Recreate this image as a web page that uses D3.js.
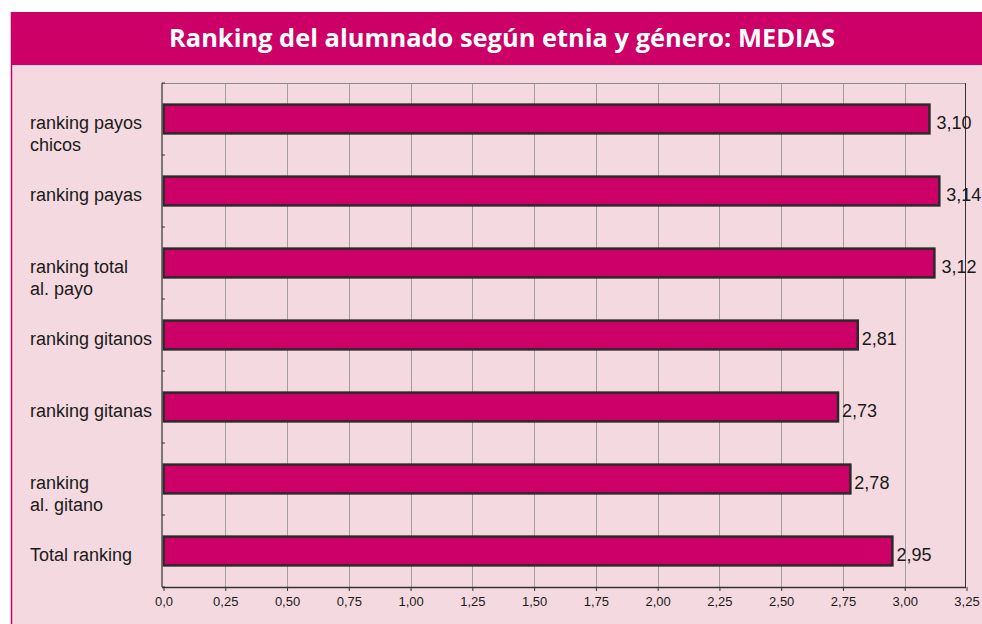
<!DOCTYPE html>
<html>
<head>
<meta charset="utf-8">
<script src="https://cdn.jsdelivr.net/npm/d3@7"></script>
<style>
  html, body { margin: 0; padding: 0; background: #fff; }
  svg { display: block; }
</style>
</head>
<body>
<svg id="chart" width="982" height="624"></svg>
<script>
// chart data
const title = 'Ranking del alumnado según etnia y género: MEDIAS';
const categories = [
    ['ranking payos', 'chicos'],
    ['ranking payas'],
    ['ranking total', 'al. payo'],
    ['ranking gitanos'],
    ['ranking gitanas'],
    ['ranking', 'al. gitano'],
    ['Total ranking']
];
const values = [3.10, 3.14, 3.12, 2.81, 2.73, 2.78, 2.95];
const tickValues = [0, 0.25, 0.5, 0.75, 1, 1.25, 1.5, 1.75, 2, 2.25, 2.5, 2.75, 3, 3.25];
const tickLabels = ['0,0', '0,25', '0,50', '0,75', '1,00', '1,25', '1,50', '1,75', '2,00', '2,25', '2,50', '2,75', '3,00', '3,25'];
const valueLabels = ['3,10', '3,14', '3,12', '2,81', '2,73', '2,78', '2,95'];

const pink = '#cc0066';
const plot = {left: 162, top: 83, right: 965, bottom: 587};

const svg = d3.select('#chart');

// panel + title bar
svg.append('rect')
    .attr('x', 11).attr('y', 12)
    .attr('width', 971).attr('height', 612)
    .attr('fill', '#f5d9e0');
svg.append('line')
    .attr('x1', 11.5).attr('x2', 11.5)
    .attr('y1', 12).attr('y2', 624)
    .attr('stroke', pink).attr('stroke-width', 1.5);
svg.append('rect')
    .attr('x', 11).attr('y', 12)
    .attr('width', 971).attr('height', 53)
    .attr('fill', pink);

let titleText = svg.append('text')
    .attr('x', 502).attr('y', 47)
    .attr('text-anchor', 'middle')
    .attr('fill', '#fff')
    .style('font-family', '"Open Sans", sans-serif')
    .style('font-weight', 700)
    .style('font-size', '24px')
    .text(title);
// fit to the width of the original title
let tw = titleText.node().getComputedTextLength();
titleText.style('font-size', (24 * 666 / tw).toFixed(2) + 'px');

let xScale = d3.scaleLinear()
    .domain([0, 3.25])
    .range([plot.left + 1.5, plot.right + 1.5]);

let yScale = d3.scaleBand()
    .domain(d3.range(categories.length))
    .range([plot.top, plot.bottom])
    .paddingInner(0.6)
    .paddingOuter(0.3);

let g = svg.append('g');

// vertical gridlines
g.selectAll('.grid')
    .data(tickValues.slice(1, -1))
    .enter()
    .append('line')
    .classed('grid', true)
    .attr('x1', (d) => Math.round(xScale(d)) + 0.5)
    .attr('x2', (d) => Math.round(xScale(d)) + 0.5)
    .attr('y1', plot.top)
    .attr('y2', plot.bottom)
    .attr('stroke', '#a0a0a0')
    .attr('stroke-width', 1);

// top border (grey) and right border (dark)
g.append('line')
    .attr('x1', plot.left).attr('x2', plot.right)
    .attr('y1', plot.top + 0.5).attr('y2', plot.top + 0.5)
    .attr('stroke', '#8a8a8a');
g.append('line')
    .attr('x1', plot.right + 0.5).attr('x2', plot.right + 0.5)
    .attr('y1', plot.top).attr('y2', plot.bottom)
    .attr('stroke', '#333');

// bars
g.selectAll('.bar')
    .data(values)
    .enter()
    .append('rect')
    .classed('bar', true)
    .attr('x', xScale(0))
    .attr('y', (d, i) => yScale(i))
    .attr('width', (d) => xScale(d) - xScale(0))
    .attr('height', yScale.bandwidth())
    .attr('fill', pink)
    .attr('stroke', '#2a2a2a')
    .attr('stroke-width', 2.5);

// value labels
g.selectAll('.value-label')
    .data(values)
    .enter()
    .append('text')
    .classed('value-label', true)
    .attr('x', (d, i) => xScale(d) + (i < 3 ? 7 : 4))
    .attr('y', (d, i) => yScale(i) + yScale.bandwidth() / 2 + 10)
    .style('font-family', '"Liberation Sans", Arial, sans-serif')
    .style('font-size', '18px')
    .attr('fill', '#1a1a1a')
    .text((d, i) => valueLabels[i]);

// bottom axis
let xAxis = d3.axisBottom(xScale)
    .tickValues(tickValues)
    .tickFormat((d, i) => tickLabels[i])
    .tickSize(4)
    .tickPadding(6);

let gx = svg.append('g')
    .attr('transform', `translate(0,${plot.bottom})`)
    .call(xAxis);
gx.select('.domain')
    .attr('d', `M${plot.left},0.5H${plot.right + 1}`)
    .attr('stroke', '#333')
    .attr('stroke-width', 1.5);
gx.selectAll('.tick line').attr('stroke', '#333');
gx.selectAll('.tick text')
    .attr('fill', '#1a1a1a')
    .style('font-family', '"Liberation Sans", Arial, sans-serif')
    .style('font-size', '13px');

// left axis: line with small inner ticks at the category boundaries
let boundaries = d3.range(categories.length + 1)
    .map((i) => plot.top + i * (plot.bottom - plot.top) / categories.length);
svg.append('line')
    .attr('x1', plot.left).attr('x2', plot.left)
    .attr('y1', plot.top).attr('y2', plot.bottom)
    .attr('stroke', '#555')
    .attr('stroke-width', 1.5);
svg.selectAll('.ytick')
    .data(boundaries)
    .enter()
    .append('line')
    .classed('ytick', true)
    .attr('x1', plot.left).attr('x2', plot.left + 3)
    .attr('y1', (d) => d).attr('y2', (d) => d)
    .attr('stroke', '#333');

// category labels
let gLabels = svg.selectAll('.cat-label')
    .data(categories)
    .enter()
    .append('text')
    .classed('cat-label', true)
    .attr('x', 30)
    .attr('y', (d, i) => yScale(i) + yScale.bandwidth() / 2 + 10)
    .style('font-family', '"Liberation Sans", Arial, sans-serif')
    .style('font-size', '18px')
    .attr('fill', '#1a1a1a');

gLabels.selectAll('tspan')
    .data((d) => d)
    .enter()
    .append('tspan')
    .attr('x', 30)
    .attr('dy', (d, i) => i == 0 ? 0 : 22)
    .text((d) => d);
</script>
</body>
</html>
